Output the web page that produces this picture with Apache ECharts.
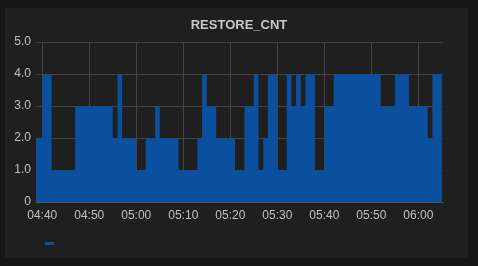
<!DOCTYPE html>
<html>
<head>
<meta charset="utf-8">
<script src="https://cdn.jsdelivr.net/npm/echarts@6/dist/echarts.min.js"></script>
<style>
html,body{margin:0;padding:0;background:#161616;width:478px;height:266px;overflow:hidden;}
#panel{position:absolute;left:5px;top:8px;width:463px;height:250px;background:#1f1f1f;}
#chart{position:absolute;left:0;top:0;width:478px;height:266px;}
</style>
</head>
<body>
<div id="panel"></div>
<div id="chart"></div>
<script>
const title = "RESTORE_CNT";
const seriesName = " ";
const times = ["04:38:40","04:40","04:42","04:47","04:55","04:56","04:57","05:00","05:02","05:04","05:05","05:09","05:13","05:14","05:15","05:17","05:21","05:23","05:25","05:26","05:27","05:28","05:30","05:32","05:33","05:34","05:35","05:36","05:38","05:40","05:42","05:52","05:55","05:58","06:02","06:03","06:05"];
const values = [2,4,1,3,2,4,2,1,2,3,2,1,2,4,3,2,1,3,4,1,2,4,1,4,3,4,3,4,1,3,4,3,4,3,2,4,4];
const xTickLabels = ["04:40","04:50","05:00","05:10","05:20","05:30","05:40","05:50","06:00"];
const xMin = "04:38:40";
const xMax = "06:05:15";
const yMin = 0, yMax = 5, yStep = 1;

function toMs(s){
  const p = s.split(':').map(Number);
  return Date.UTC(2024,0,1,p[0],p[1],p[2]||0);
}
function fmt(ms){
  const d = new Date(ms);
  const h = String(d.getUTCHours()).padStart(2,'0');
  const m = String(d.getUTCMinutes()).padStart(2,'0');
  return h + ':' + m;
}
const data = times.map((t,i)=>[toMs(t), values[i]]);
const tickValues = xTickLabels.map(toMs);
const chart = echarts.init(document.getElementById('chart'), null, {renderer:'canvas'});
const font = 'Liberation Sans, Arial, sans-serif';
chart.setOption({
  backgroundColor: 'transparent',
  animation: false,
  title: {
    text: title, left: 'center', top: 14,
    textStyle: {color:'#c8c8c8', fontSize:13, fontWeight:'bold', fontFamily: font}
  },
  legend: {
    data: [seriesName], left: 40, top: 237,
    icon: 'rect', itemWidth: 9, itemHeight: 3,
    textStyle: {fontSize: 1, color: 'transparent'}
  },
  grid: {left: 36, right: 35, top: 42, bottom: 64, containLabel: false},
  xAxis: {
    type: 'value', min: toMs(xMin), max: toMs(xMax),
    axisLine: {show: true, lineStyle: {color:'#555', width:1}},
    axisTick: {show: false, customValues: tickValues},
    axisLabel: {color:'#c0c0c0', fontSize:12, fontFamily: font, margin: 8,
      customValues: tickValues, formatter: v => fmt(v)},
    splitLine: {show: true, lineStyle: {color:'#444', width:1}}
  },
  yAxis: {
    type: 'value', min: yMin, max: yMax, interval: yStep,
    axisLine: {show: false}, axisTick: {show: false},
    axisLabel: {color:'#c0c0c0', fontSize:12, fontFamily: font, margin: 5,
      formatter: v => v === 0 ? '0' : v.toFixed(1)},
    splitLine: {show: true, lineStyle: {color:'#444', width:1}}
  },
  series: [{
    name: seriesName, type: 'line', step: 'end', data: data,
    showSymbol: false, symbol: 'none',
    itemStyle: {color:'#0b4f9f'},
    lineStyle: {width: 0, color:'#0b4f9f'},
    areaStyle: {color:'#0b4f9f', opacity: 1}
  }]
});
</script>
</body>
</html>
